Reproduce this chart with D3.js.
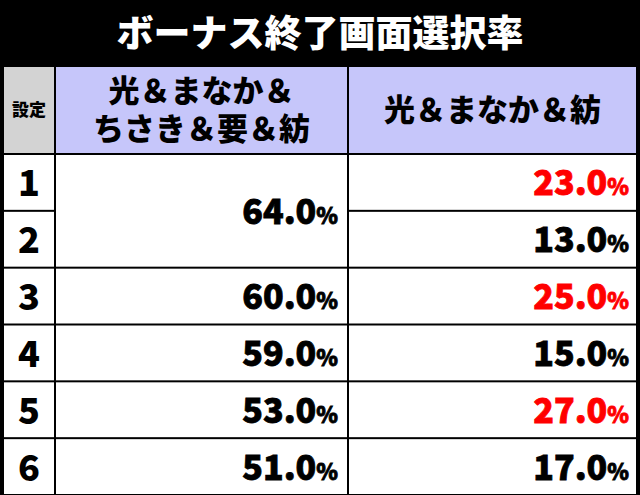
<!DOCTYPE html>
<html><head><meta charset="utf-8">
<script src="https://cdn.jsdelivr.net/npm/d3@7"></script>
<style>body{margin:0;background:#000}svg{display:block}</style>
</head><body><div class="container"></div>
<script>
const title = 'ボーナス終了画面選択率';
const settings = ['1', '2', '3', '4', '5', '6'];
const colA = [64.0, null, 60.0, 59.0, 53.0, 51.0]; // setting 1-2 merged
const colB = [23.0, 13.0, 25.0, 15.0, 27.0, 17.0];
const highlight = [true, false, true, false, true, false];
const headers = ['設定', '光＆まなか＆\nちさき＆要＆紡', '光＆まなか＆紡'];

const w = 640, h = 495;
const font = '"Noto Sans CJK JP", sans-serif';
const svg = d3.select('.container').append('svg').attr('width', w).attr('height', h);
svg.append('rect').attr('width', w).attr('height', h).attr('fill', '#000');

svg.append('text').text(title)
    .attr('x', 320).attr('y', 47).attr('text-anchor', 'middle')
    .attr('fill', '#fff').style('font-family', font).style('font-weight', 900).style('font-size', 37);

const cols = [3, 55, 348, 637];
const headTop = 67, headBot = 155;
const y = d3.scaleBand().domain(settings).range([headBot, h + 1]);

// header cells
const headFill = ['#d3d3d3', '#c6c6fa', '#c6c6fa'];
headers.forEach((t, i) => {
    svg.append('rect').attr('x', cols[i] + 1).attr('y', headTop).attr('width', cols[i + 1] - cols[i] - 2)
        .attr('height', headBot - headTop - 2).attr('fill', headFill[i]);
    const lines = t.split('\n');
    const fs = i === 0 ? 17 : 31;
    const cx = (cols[i] + cols[i + 1]) / 2;
    const cy = (headTop + headBot) / 2 - 1;
    lines.forEach((l, j) => {
        svg.append('text').text(l).attr('x', cx)
            .attr('y', cy + (j - (lines.length - 1) / 2) * 38 + fs * 0.36)
            .attr('text-anchor', 'middle').style('font-family', font).style('font-weight', 900)
            .style('font-size', fs).attr('fill', '#000');
    });
});

function pct(x, yy, v, color) {
    const t = svg.append('text').attr('x', x).attr('y', yy).attr('text-anchor', 'end')
        .style('font-family', font).style('font-weight', 900).attr('fill', color)
        .attr('stroke', color).attr('stroke-width', 0.8);
    t.append('tspan').text(v.toFixed(1)).style('font-size', 34);
    t.append('tspan').text('%').style('font-size', 22);
}

settings.forEach((s, i) => {
    const top = y(s), bh = y.bandwidth();
    // setting cell
    svg.append('rect').attr('x', cols[0] + 1).attr('y', top).attr('width', cols[1] - cols[0] - 2)
        .attr('height', bh - 2).attr('fill', '#fff');
    svg.append('text').text(s).attr('x', (cols[0] + cols[1]) / 2).attr('y', top + bh / 2 + 13)
        .attr('text-anchor', 'middle').style('font-family', font).style('font-weight', 900)
        .style('font-size', 36).attr('fill', '#000');
    // column A (merged for 1-2)
    if (colA[i] !== null) {
        const span = (i === 0) ? 2 : 1;
        const hh = bh * span;
        svg.append('rect').attr('x', cols[1] + 1).attr('y', top).attr('width', cols[2] - cols[1] - 2)
            .attr('height', hh - 2).attr('fill', '#fff');
        pct(cols[2] - 10, top + hh / 2 + 12, colA[i], '#000');
    }
    // column B
    svg.append('rect').attr('x', cols[2] + 1).attr('y', top).attr('width', cols[3] - cols[2] - 2)
        .attr('height', bh - 2).attr('fill', '#fff');
    pct(cols[3] - 8, top + bh / 2 + 12, colB[i], highlight[i] ? '#ff0000' : '#000');
});
</script></body></html>
